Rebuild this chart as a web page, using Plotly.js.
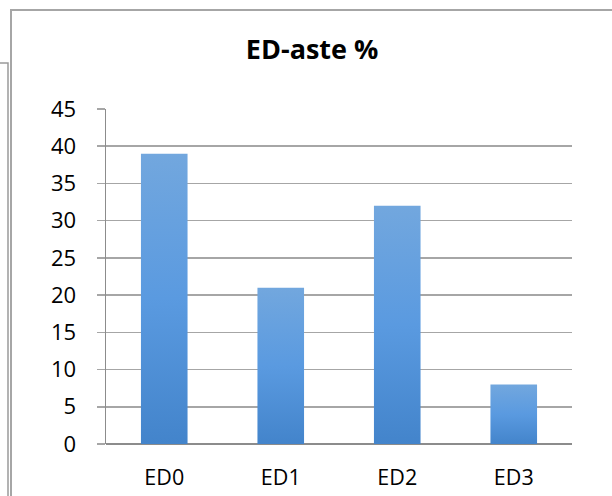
<!DOCTYPE html>
<html>
<head>
<meta charset="utf-8">
<script src="https://cdn.plot.ly/plotly-3.0.1.min.js"></script>
<style>
html,body{margin:0;padding:0;background:#fff;}
#chart{width:612px;height:496px;}
</style>
</head>
<body>
<div id="chart"></div>
<script>
const categories = ["ED0", "ED1", "ED2", "ED3"];
const values = [39, 21, 32, 8];
const yTicks = [0, 5, 10, 15, 20, 25, 30, 35, 40, 45];
const chartTitle = "ED-aste %";

const FONT = "'Open Sans', Lato, sans-serif";
const W = 612, H = 496, ML = 106, MR = 40, MT = 109, MB = 52;
const PW = W - ML - MR, PH = H - MT - MB;
const px = x => (x - ML) / PW;
const py = y => (H - MB - y) / PH;

const trace = {
  type: "bar",
  x: categories,
  y: values,
  marker: {color: "#5B9BD5", line: {width: 0}},
  hoverinfo: "none"
};

const layout = {
  width: W, height: H,
  margin: {l: ML, r: MR, t: MT, b: MB, pad: 0},
  paper_bgcolor: "#fff", plot_bgcolor: "#fff",
  bargap: 0.6,
  showlegend: false,
  title: {text: "<b>" + chartTitle + "</b>", font: {family: FONT, size: 27, color: "#000"},
          x: 0.51, xanchor: "center", y: 1 - 50/H, yanchor: "middle"},
  xaxis: {
    type: "category",
    showgrid: false, zeroline: false,
    showline: false, ticks: "",
    tickfont: {family: FONT, size: 21.5, color: "#000"},
    ticklabelstandoff: 18,
    fixedrange: true
  },
  yaxis: {
    range: [0, 45],
    tickvals: yTicks,
    ticktext: yTicks.map(String),
    showgrid: true, gridcolor: "#A6A6A6", gridwidth: 1.5,
    zeroline: true, zerolinecolor: "#8C8C8C", zerolinewidth: 1.5,
    showline: true, linecolor: "#8C8C8C", linewidth: 1.5,
    ticks: "outside", ticklen: 8, tickcolor: "#A6A6A6", tickwidth: 1.5,
    tickfont: {family: FONT, size: 22, color: "#000"},
    ticklabelstandoff: 16,
    fixedrange: true
  },
  shapes: [
    {type: "path", xref: "paper", yref: "paper",
     path: `M ${px(11)} ${py(505)} L ${px(11)} ${py(10)} L ${px(620)} ${py(10)}`,
     line: {color: "#A6A6A6", width: 2}},
    {type: "path", xref: "paper", yref: "paper",
     path: `M ${px(-5)} ${py(63)} L ${px(8)} ${py(63)} L ${px(8)} ${py(505)}`,
     line: {color: "#9A9A9A", width: 1.5}}
  ]
};

Plotly.newPlot("chart", [trace], layout, {staticPlot: true, displayModeBar: false}).then(gd => {
  const svg = gd.querySelector("svg.main-svg");
  const ns = "http://www.w3.org/2000/svg";
  let defs = svg.querySelector("defs");
  if (!defs) { defs = document.createElementNS(ns, "defs"); svg.insertBefore(defs, svg.firstChild); }
  const lg = document.createElementNS(ns, "linearGradient");
  lg.setAttribute("id", "barGrad");
  lg.setAttribute("x1", "0"); lg.setAttribute("y1", "0");
  lg.setAttribute("x2", "0"); lg.setAttribute("y2", "1");
  [["0", "#72A7DE"], ["0.5", "#5A9AE0"], ["1", "#4384CB"]].forEach(([o, c]) => {
    const s = document.createElementNS(ns, "stop");
    s.setAttribute("offset", o); s.setAttribute("stop-color", c);
    lg.appendChild(s);
  });
  defs.appendChild(lg);
  gd.querySelectorAll(".bars .point path").forEach(p => {
    p.style.fill = "url(#barGrad)";
  });
});
</script>
</body>
</html>
